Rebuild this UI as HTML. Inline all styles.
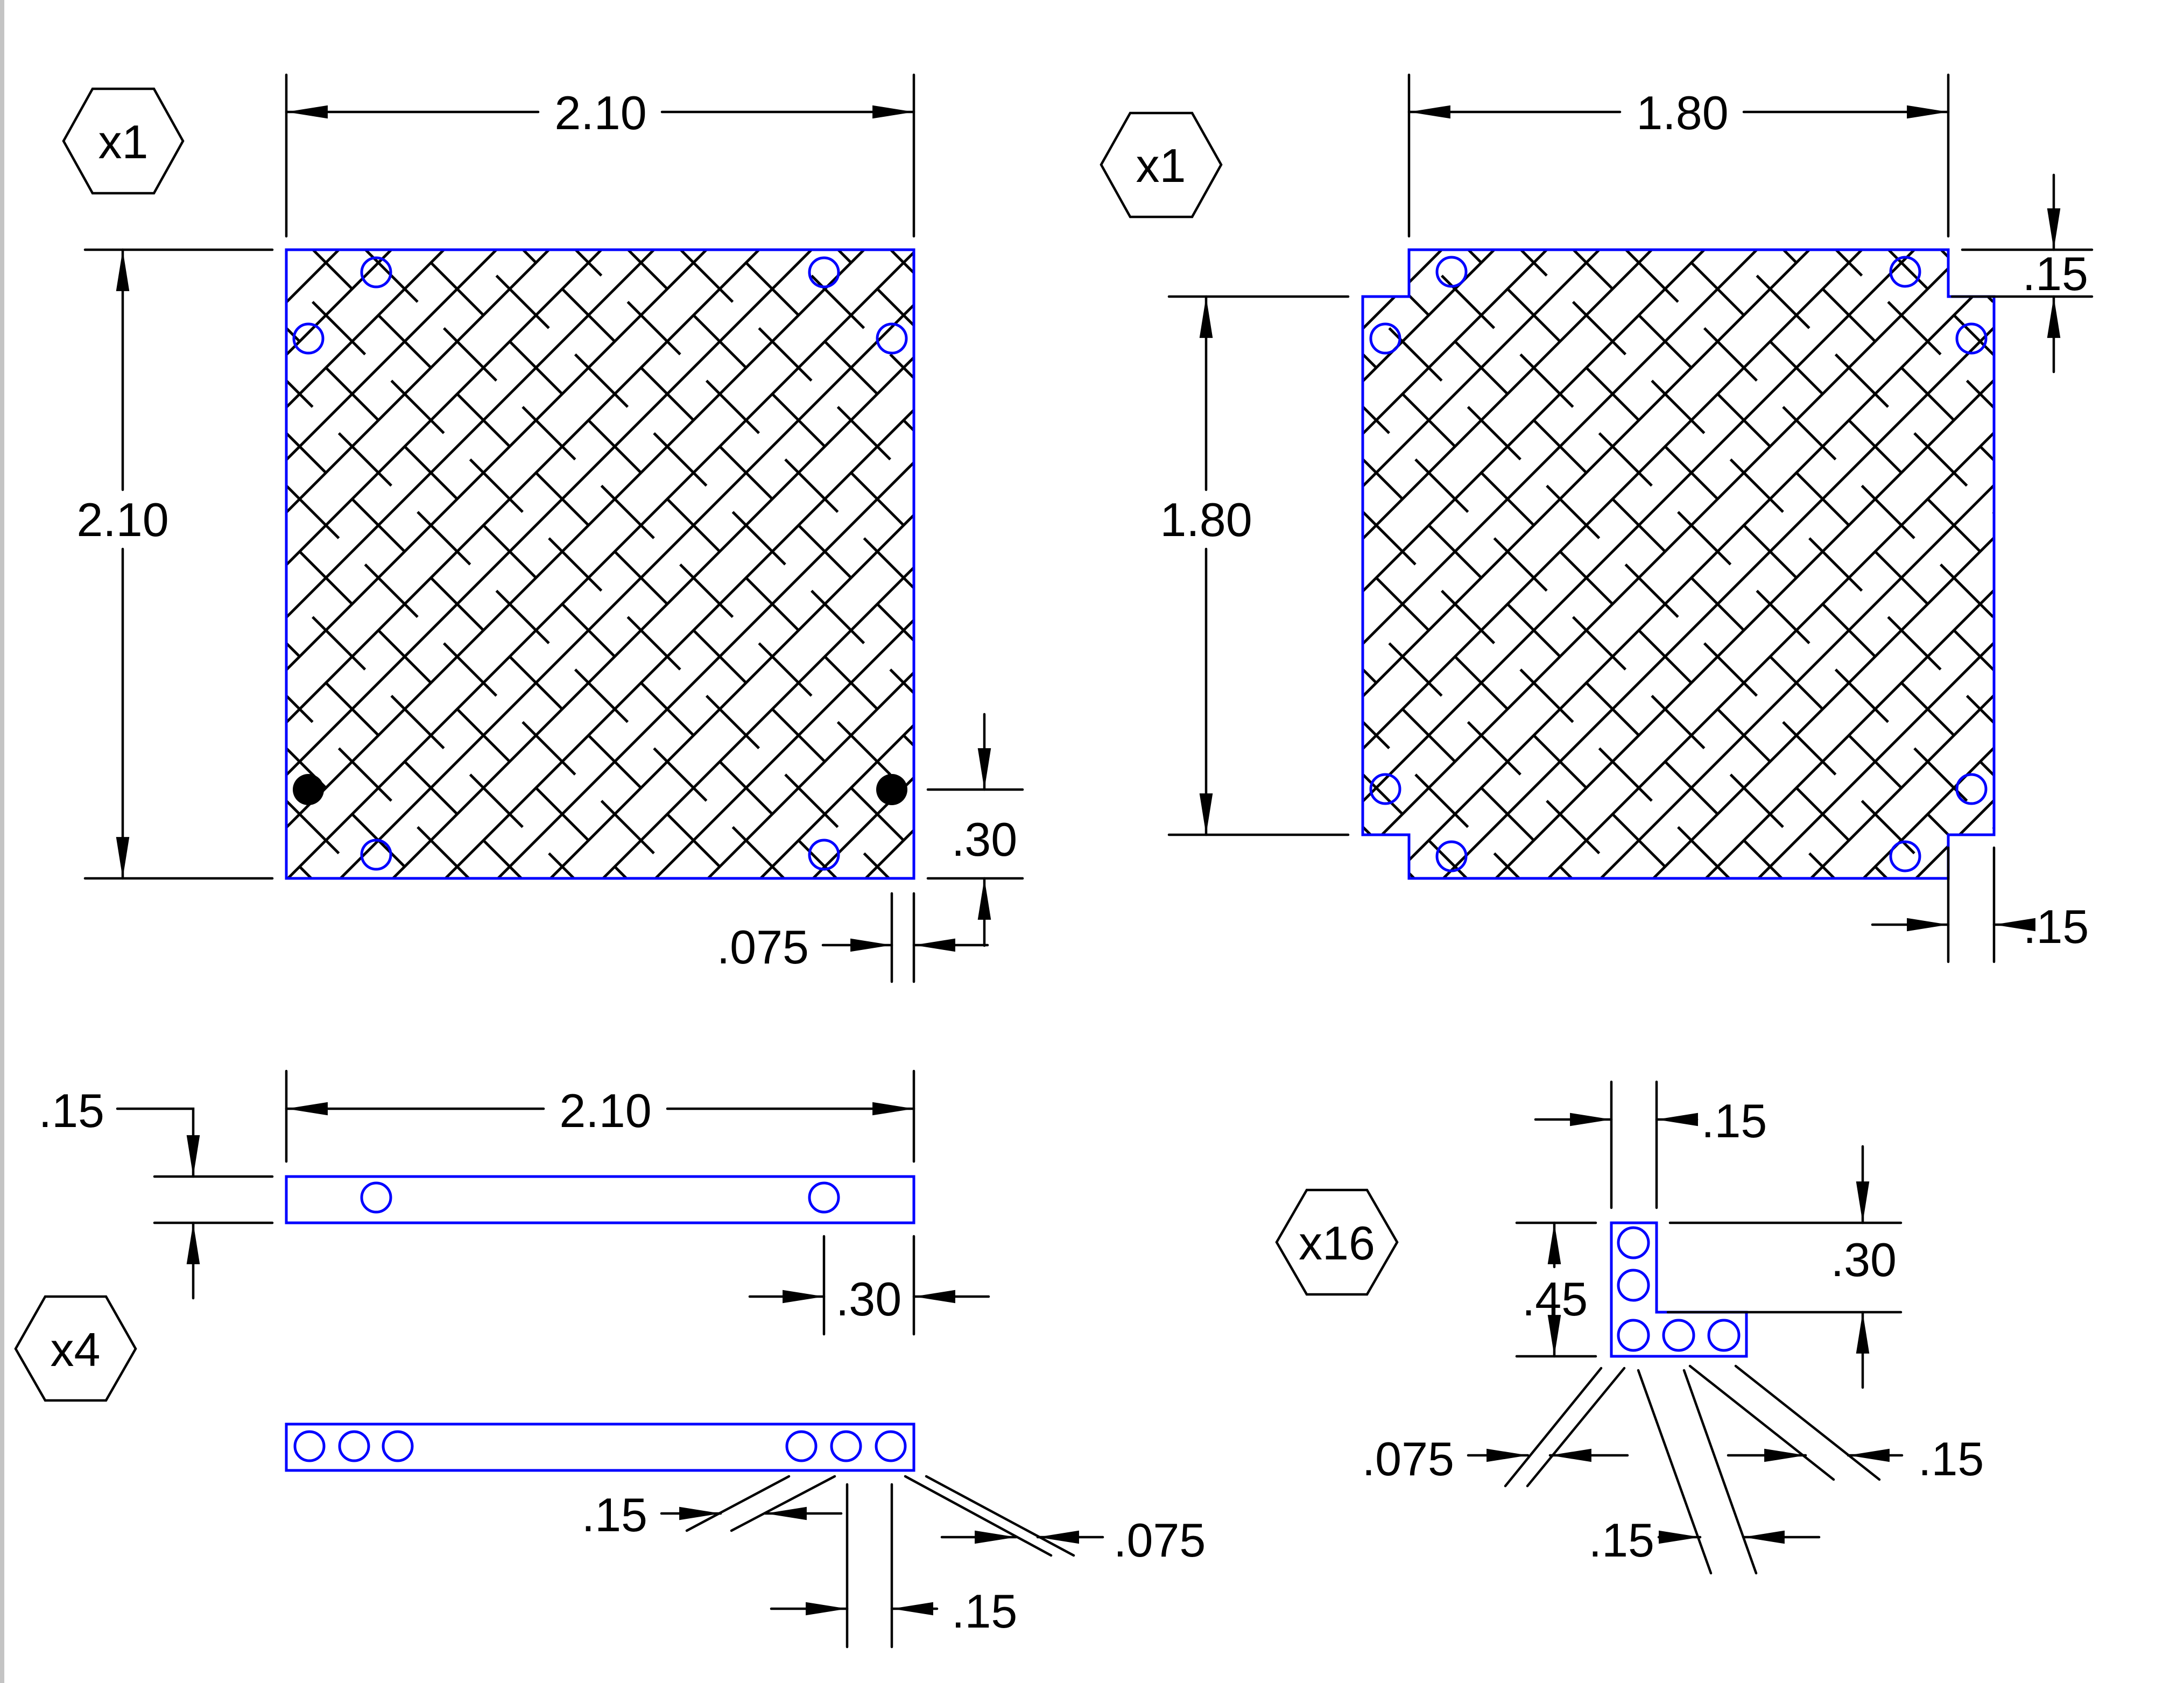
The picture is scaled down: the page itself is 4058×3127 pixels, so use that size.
<!DOCTYPE html>
<html><head><meta charset="utf-8"><style>
html,body{margin:0;padding:0;background:#fff;}
svg{display:block;}
text{font-family:"Liberation Sans",sans-serif;font-size:88px;fill:#000;}
</style></head><body>
<svg width="4058" height="3127" viewBox="0 0 4058 3127" xmlns="http://www.w3.org/2000/svg">
<defs>
<marker id="ar" markerUnits="userSpaceOnUse" markerWidth="80" markerHeight="30" viewBox="-76 -13 78 26" refX="0" refY="0" orient="auto">
<path d="M0,0 L-75,-12 L-75,12 Z" fill="#000"/>
</marker>
<pattern id="hatch" patternUnits="userSpaceOnUse" width="138" height="207" patternTransform="translate(532,464) rotate(-45)">
<line x1="0" y1="0" x2="138" y2="0" stroke="#000" stroke-width="5"/>
<line x1="0" y1="69" x2="138" y2="69" stroke="#000" stroke-width="5"/>
<line x1="0" y1="138" x2="138" y2="138" stroke="#000" stroke-width="5"/>
<line x1="0" y1="207" x2="138" y2="207" stroke="#000" stroke-width="5"/>
<line x1="35" y1="0" x2="35" y2="138" stroke="#000" stroke-width="5"/>
<line x1="104" y1="103" x2="104" y2="241" stroke="#000" stroke-width="5"/>
<line x1="104" y1="-104" x2="104" y2="34" stroke="#000" stroke-width="5"/>
</pattern>
</defs>
<rect x="0" y="0" width="4058" height="3127" fill="#fff"/>
<rect x="0" y="0" width="8" height="3127" fill="#c4c4c4"/>

<g fill="none" stroke="#000" stroke-width="4.5" stroke-linecap="round">
<g>
<rect x="532" y="464" width="1166" height="1168" fill="url(#hatch)" stroke="#00f" stroke-width="5"/>
<g stroke="#00f" stroke-width="5">
<circle cx="699" cy="506" r="27"/><circle cx="1531" cy="506" r="27"/>
<circle cx="573" cy="629" r="27"/><circle cx="1657" cy="629" r="27"/>
<circle cx="699" cy="1588" r="27"/><circle cx="1531" cy="1588" r="27"/>
</g>
<circle cx="573" cy="1467" r="29" fill="#000" stroke="none"/>
<circle cx="1657" cy="1467" r="29" fill="#000" stroke="none"/>
</g>
<g>
<line x1="532" y1="139" x2="532" y2="439"/><line x1="1698" y1="139" x2="1698" y2="439"/>
<line x1="1000" y1="208" x2="532" y2="208" marker-end="url(#ar)"/>
<line x1="1230" y1="208" x2="1698" y2="208" marker-end="url(#ar)"/>
</g>
<g>
<line x1="158" y1="464" x2="506" y2="464"/><line x1="158" y1="1632" x2="506" y2="1632"/>
<line x1="228" y1="910" x2="228" y2="464" marker-end="url(#ar)"/>
<line x1="228" y1="1020" x2="228" y2="1632" marker-end="url(#ar)"/>
</g>
<g>
<line x1="1724" y1="1467" x2="1900" y2="1467"/><line x1="1724" y1="1632" x2="1900" y2="1632"/>
<line x1="1829" y1="1327" x2="1829" y2="1467" marker-end="url(#ar)"/>
<line x1="1829" y1="1757" x2="1829" y2="1632" marker-end="url(#ar)"/>
</g>
<g>
<line x1="1657" y1="1660" x2="1657" y2="1824"/><line x1="1698" y1="1660" x2="1698" y2="1824"/>
<line x1="1529" y1="1756" x2="1657" y2="1756" marker-end="url(#ar)"/>
<line x1="1835" y1="1756" x2="1698" y2="1756" marker-end="url(#ar)"/>
</g>

<g>
<polygon points="2618,464 3620,464 3620,551 3705,551 3705,1551 3620,1551 3620,1632 2618,1632 2618,1551 2532,1551 2532,551 2618,551" fill="url(#hatch)" stroke="#00f" stroke-width="5"/>
<g stroke="#00f" stroke-width="5">
<circle cx="2697" cy="505" r="27"/><circle cx="3540" cy="505" r="27"/>
<circle cx="2574" cy="629" r="27"/><circle cx="3663" cy="629" r="27"/>
<circle cx="2574" cy="1466" r="27"/><circle cx="3663" cy="1466" r="27"/>
<circle cx="2697" cy="1591" r="27"/><circle cx="3540" cy="1591" r="27"/>
</g>
</g>
<g>
<line x1="2618" y1="139" x2="2618" y2="439"/><line x1="3620" y1="139" x2="3620" y2="439"/>
<line x1="3010" y1="208" x2="2618" y2="208" marker-end="url(#ar)"/>
<line x1="3240" y1="208" x2="3620" y2="208" marker-end="url(#ar)"/>
</g>
<g>
<line x1="2172" y1="551" x2="2505" y2="551"/><line x1="2172" y1="1551" x2="2505" y2="1551"/>
<line x1="2241" y1="910" x2="2241" y2="551" marker-end="url(#ar)"/>
<line x1="2241" y1="1020" x2="2241" y2="1551" marker-end="url(#ar)"/>
</g>
<g>
<line x1="3646" y1="464" x2="3887" y2="464"/><line x1="3627" y1="551" x2="3887" y2="551"/>
<line x1="3816" y1="325" x2="3816" y2="464" marker-end="url(#ar)"/>
<line x1="3816" y1="691" x2="3816" y2="551" marker-end="url(#ar)"/>
</g>
<g>
<line x1="3620" y1="1575" x2="3620" y2="1787"/><line x1="3705" y1="1575" x2="3705" y2="1787"/>
<line x1="3479" y1="1718" x2="3620" y2="1718" marker-end="url(#ar)"/>
<line x1="3778" y1="1718" x2="3705" y2="1718" marker-end="url(#ar)"/>
</g>

<g>
<rect x="532" y="2186" width="1166" height="86" stroke="#00f" stroke-width="5"/>
<circle cx="699" cy="2225" r="27" stroke="#00f" stroke-width="5"/>
<circle cx="1531" cy="2225" r="27" stroke="#00f" stroke-width="5"/>
</g>
<g>
<line x1="532" y1="1990" x2="532" y2="2158"/><line x1="1698" y1="1990" x2="1698" y2="2158"/>
<line x1="1010" y1="2060" x2="532" y2="2060" marker-end="url(#ar)"/>
<line x1="1240" y1="2060" x2="1698" y2="2060" marker-end="url(#ar)"/>
</g>
<g>
<line x1="287" y1="2186" x2="506" y2="2186"/><line x1="287" y1="2272" x2="506" y2="2272"/>
<polyline points="218,2060 359,2060 359,2186" marker-end="url(#ar)"/>
<line x1="359" y1="2412" x2="359" y2="2272" marker-end="url(#ar)"/>
</g>
<g>
<line x1="1531" y1="2297" x2="1531" y2="2479"/><line x1="1698" y1="2297" x2="1698" y2="2479"/>
<line x1="1393" y1="2409" x2="1531" y2="2409" marker-end="url(#ar)"/>
<line x1="1837" y1="2409" x2="1698" y2="2409" marker-end="url(#ar)"/>
</g>

<g>
<rect x="532" y="2646" width="1166" height="86" stroke="#00f" stroke-width="5"/>
<g stroke="#00f" stroke-width="5">
<circle cx="575" cy="2687" r="27"/><circle cx="658" cy="2687" r="27"/><circle cx="739" cy="2687" r="27"/>
<circle cx="1489" cy="2687" r="27"/><circle cx="1572" cy="2687" r="27"/><circle cx="1655" cy="2687" r="27"/>
</g>
</g>
<g>
<line x1="1574" y1="2758" x2="1574" y2="3060"/><line x1="1657" y1="2758" x2="1657" y2="3060"/>
<line x1="1433" y1="2989" x2="1574" y2="2989" marker-end="url(#ar)"/>
<line x1="1741" y1="2989" x2="1657" y2="2989" marker-end="url(#ar)"/>
</g>
<g>
<line x1="1466" y1="2743" x2="1276" y2="2844"/><line x1="1551" y1="2743" x2="1359" y2="2844"/>
<line x1="1229" y1="2812" x2="1339" y2="2812" marker-end="url(#ar)"/>
<line x1="1563" y1="2812" x2="1422" y2="2812" marker-end="url(#ar)"/>
</g>
<g>
<line x1="1682" y1="2743" x2="1953" y2="2890"/><line x1="1721" y1="2743" x2="1995" y2="2890"/>
<line x1="1750" y1="2856" x2="1888" y2="2856" marker-end="url(#ar)"/>
<line x1="2049" y1="2856" x2="1928" y2="2856" marker-end="url(#ar)"/>
</g>

<g>
<polygon points="2994,2272 3078,2272 3078,2438 3245,2438 3245,2520 2994,2520" stroke="#00f" stroke-width="5"/>
<g stroke="#00f" stroke-width="5">
<circle cx="3035" cy="2309" r="28"/><circle cx="3035" cy="2388" r="28"/>
<circle cx="3035" cy="2481" r="28"/><circle cx="3119" cy="2481" r="28"/><circle cx="3203" cy="2481" r="28"/>
</g>
</g>
<g>
<line x1="2994" y1="2010" x2="2994" y2="2244"/><line x1="3078" y1="2010" x2="3078" y2="2244"/>
<line x1="2853" y1="2080" x2="2994" y2="2080" marker-end="url(#ar)"/>
<line x1="3153" y1="2080" x2="3078" y2="2080" marker-end="url(#ar)"/>
</g>
<g>
<line x1="3103" y1="2272" x2="3532" y2="2272"/><line x1="3099" y1="2438" x2="3532" y2="2438"/>
<line x1="3461" y1="2130" x2="3461" y2="2272" marker-end="url(#ar)"/>
<line x1="3461" y1="2578" x2="3461" y2="2438" marker-end="url(#ar)"/>
</g>
<g>
<line x1="2818" y1="2272" x2="2965" y2="2272"/><line x1="2818" y1="2520" x2="2965" y2="2520"/>
<line x1="2888" y1="2354" x2="2888" y2="2272" marker-end="url(#ar)"/>
<line x1="2888" y1="2448" x2="2888" y2="2520" marker-end="url(#ar)"/>
</g>
<g>
<line x1="2975" y1="2542" x2="2797" y2="2761"/><line x1="3018" y1="2542" x2="2838" y2="2761"/>
<line x1="2728" y1="2704" x2="2839" y2="2704" marker-end="url(#ar)"/>
<line x1="3024" y1="2704" x2="2880" y2="2704" marker-end="url(#ar)"/>
</g>
<g>
<line x1="3044" y1="2546" x2="3179" y2="2923"/><line x1="3129" y1="2546" x2="3263" y2="2923"/>
<line x1="3082" y1="2856" x2="3159" y2="2856" marker-end="url(#ar)"/>
<line x1="3380" y1="2856" x2="3239" y2="2856" marker-end="url(#ar)"/>
</g>
<g>
<line x1="3140" y1="2538" x2="3407" y2="2749"/><line x1="3225" y1="2538" x2="3492" y2="2749"/>
<line x1="3211" y1="2704" x2="3355" y2="2704" marker-end="url(#ar)"/>
<line x1="3534" y1="2704" x2="3434" y2="2704" marker-end="url(#ar)"/>
</g>

<polygon points="118,262 172,165 286,165 340,262 286,359 172,359"/>
<polygon points="2046,306 2100,210 2215,210 2269,306 2215,403 2100,403"/>
<polygon points="29,2506 84,2409 197,2409 252,2506 197,2602 84,2602"/>
<polygon points="2372,2308 2428,2211 2540,2211 2596,2308 2540,2405 2428,2405"/>
</g>

<g>
<text x="229" y="294" text-anchor="middle">x1</text>
<text x="2157" y="338" text-anchor="middle">x1</text>
<text x="140" y="2538" text-anchor="middle">x4</text>
<text x="2484" y="2340" text-anchor="middle">x16</text>

<text x="1116" y="240" text-anchor="middle">2.10</text>
<text x="228" y="996" text-anchor="middle">2.10</text>
<text x="1829" y="1590" text-anchor="middle">.30</text>
<text x="1503" y="1790" text-anchor="end">.075</text>

<text x="3126" y="240" text-anchor="middle">1.80</text>
<text x="2241" y="996" text-anchor="middle">1.80</text>
<text x="3880" y="539" text-anchor="end">.15</text>
<text x="3759" y="1752">.15</text>

<text x="1125" y="2094" text-anchor="middle">2.10</text>
<text x="194" y="2094" text-anchor="end">.15</text>
<text x="1614" y="2444" text-anchor="middle">.30</text>

<text x="1203" y="2845" text-anchor="end">.15</text>
<text x="2069" y="2892">.075</text>
<text x="1768" y="3024">.15</text>

<text x="3161" y="2113">.15</text>
<text x="3524" y="2371" text-anchor="end">.30</text>
<text x="2889" y="2444" text-anchor="middle">.45</text>
<text x="2702" y="2741" text-anchor="end">.075</text>
<text x="3074" y="2892" text-anchor="end">.15</text>
<text x="3564" y="2741">.15</text>
</g>
</svg>
</body></html>
